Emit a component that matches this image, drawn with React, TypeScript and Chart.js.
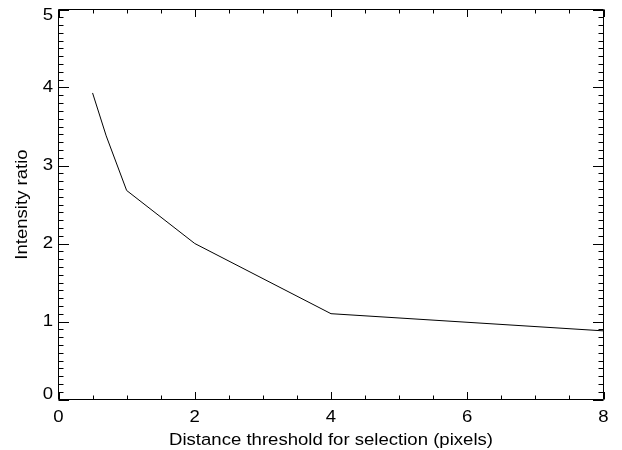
import React, { useEffect, useRef } from "react";
import { Chart, registerables } from "chart.js";

Chart.register(...registerables);

const distance = [0.5, 0.7, 1, 2, 4, 8];
const intensityRatio = [3.93, 3.38, 2.68, 2.0, 1.1, 0.88];
const xTickValues = [0, 2, 4, 6, 8];
const yTickValues = [0, 1, 2, 3, 4, 5];
const xMinorPerMajor = 4;
const yMinorPerMajor = 10;
const xTitle = "Distance threshold for selection (pixels)";
const yTitle = "Intensity ratio";

const FONT = "'Liberation Sans', Arial, Helvetica, sans-serif";
const FONT_SIZE = 16.3;
const STRETCH = 1.14;

function drawText(
  ctx: CanvasRenderingContext2D,
  text: string,
  x: number,
  y: number,
  align: CanvasTextAlign,
  baseline: CanvasTextBaseline,
  rotation = 0
) {
  ctx.save();
  ctx.translate(x, y);
  if (rotation) ctx.rotate(rotation);
  ctx.scale(STRETCH, 1);
  ctx.textAlign = align;
  ctx.textBaseline = baseline;
  ctx.fillText(text, 0, 0);
  ctx.restore();
}

const framePlugin = {
  id: "idlFrame",
  afterDraw(chart: any) {
    const { ctx, chartArea, scales } = chart;
    const xs = scales.x;
    const ys = scales.y;
    const { left, right, top, bottom } = chartArea;
    ctx.save();
    ctx.strokeStyle = "#000";
    ctx.lineWidth = 1;
    ctx.beginPath();
    ctx.rect(left, top, right - left, bottom - top);
    ctx.stroke();

    const xMajorLen = 7.5;
    const xMinorLen = 4;
    const yMajorLen = 10.5;
    const yMinorLen = 5;

    ctx.beginPath();
    for (let i = 0; i < xTickValues.length; i++) {
      const v = xTickValues[i];
      const px = Math.round(xs.getPixelForValue(v)) + 0.5;
      ctx.moveTo(px, bottom);
      ctx.lineTo(px, bottom - xMajorLen);
      ctx.moveTo(px, top);
      ctx.lineTo(px, top + xMajorLen);
      if (i < xTickValues.length - 1) {
        const next = xTickValues[i + 1];
        for (let k = 1; k < xMinorPerMajor; k++) {
          const mv = v + ((next - v) * k) / xMinorPerMajor;
          const mp = Math.round(xs.getPixelForValue(mv)) + 0.5;
          ctx.moveTo(mp, bottom);
          ctx.lineTo(mp, bottom - xMinorLen);
          ctx.moveTo(mp, top);
          ctx.lineTo(mp, top + xMinorLen);
        }
      }
    }
    for (let i = 0; i < yTickValues.length; i++) {
      const v = yTickValues[i];
      const py = Math.round(ys.getPixelForValue(v)) + 0.5;
      ctx.moveTo(left, py);
      ctx.lineTo(left + yMajorLen, py);
      ctx.moveTo(right, py);
      ctx.lineTo(right - yMajorLen, py);
      if (i < yTickValues.length - 1) {
        const next = yTickValues[i + 1];
        for (let k = 1; k < yMinorPerMajor; k++) {
          const mv = v + ((next - v) * k) / yMinorPerMajor;
          const mp = Math.round(ys.getPixelForValue(mv)) + 0.5;
          ctx.moveTo(left, mp);
          ctx.lineTo(left + yMinorLen, mp);
          ctx.moveTo(right, mp);
          ctx.lineTo(right - yMinorLen, mp);
        }
      }
    }
    ctx.stroke();

    ctx.fillStyle = "#000";
    ctx.font = `${FONT_SIZE}px ${FONT}`;

    // x tick labels
    for (const v of xTickValues) {
      drawText(ctx, String(v), xs.getPixelForValue(v), bottom + 18, "center", "middle");
    }
    // y tick labels (clamped inside the axis span)
    for (const v of yTickValues) {
      let py = ys.getPixelForValue(v);
      if (py < top + 6.3) py = top + 6.3;
      if (py > bottom - 5.3) py = bottom - 5.3;
      drawText(ctx, String(v), left - 5.5, py, "right", "middle");
    }
    // axis titles
    drawText(ctx, xTitle, (left + right) / 2, 445, "center", "alphabetic");
    drawText(ctx, yTitle, 27.3, (top + bottom) / 2, "center", "alphabetic", -Math.PI / 2);
    ctx.restore();
  },
};

export default function App() {
  const ref = useRef<HTMLCanvasElement | null>(null);
  useEffect(() => {
    if (!ref.current) return;
    const chart = new Chart(ref.current, {
      type: "line",
      data: {
        datasets: [
          {
            data: distance.map((x, i) => ({ x, y: intensityRatio[i] })),
            borderColor: "#000",
            borderWidth: 1,
            pointRadius: 0,
            fill: false,
            tension: 0,
          },
        ],
      },
      options: {
        animation: false,
        responsive: false,
        maintainAspectRatio: false,
        events: [],
        layout: { padding: { left: 0, top: 9.5, right: 18.5, bottom: 0 } },
        plugins: { legend: { display: false }, tooltip: { enabled: false } },
        scales: {
          x: {
            type: "linear",
            min: 0,
            max: 8,
            afterBuildTicks: (s: any) => {
              s.ticks = xTickValues.map((v) => ({ value: v }));
            },
            afterFit: (s: any) => {
              s.height = 50.5;
            },
            grid: { display: false },
            border: { display: false },
            ticks: { display: false },
            title: { display: false },
          },
          y: {
            type: "linear",
            min: 0,
            max: 5,
            afterBuildTicks: (s: any) => {
              s.ticks = yTickValues.map((v) => ({ value: v }));
            },
            afterFit: (s: any) => {
              s.width = 58.5;
            },
            grid: { display: false },
            border: { display: false },
            ticks: { display: false },
            title: { display: false },
          },
        },
      },
      plugins: [framePlugin],
    });
    return () => chart.destroy();
  }, []);
  return (
    <div style={{ position: "fixed", left: 0, top: 0, width: 622, height: 450, background: "#fff" }}>
      <canvas ref={ref} width={622} height={450} style={{ width: 622, height: 450 }} />
    </div>
  );
}
